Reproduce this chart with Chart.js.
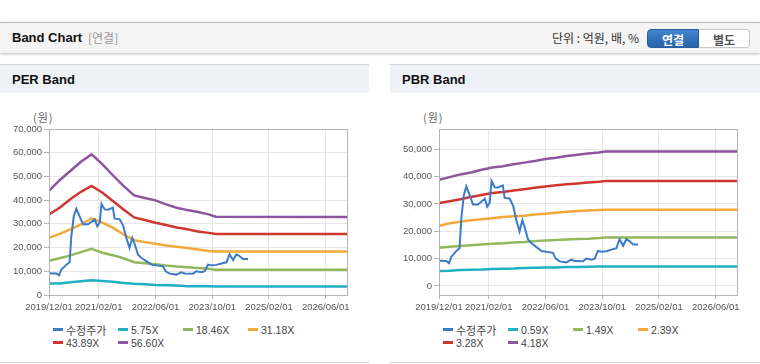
<!DOCTYPE html>
<html>
<head>
<meta charset="utf-8">
<script src="https://cdn.jsdelivr.net/npm/chart.js@4.4.1/dist/chart.umd.min.js"></script>
<style>
  body { margin: 0; width: 760px; height: 364px; background: #fff; overflow: hidden; position: relative;
         font-family: "Liberation Sans", Arial, "Noto Sans CJK KR", sans-serif; }
  #top { position: absolute; left: 0; top: 22px; width: 760px; height: 30px; background: #f4f4f4;
         border-top: 1px solid #bdbdbd; box-shadow: 0 1px 3px rgba(0,0,0,0.25); }
  #top .title { position: absolute; left: 12px; top: 7px; font-size: 13px; font-weight: bold; color: #111; }
  #top .sub { position: absolute; left: 88px; top: 8px; font-size: 12px; color: #999;
              font-family: "Noto Sans CJK KR", sans-serif; line-height: 14px; }
  #top .unit { position: absolute; left: 552px; top: 8px; font-size: 12px; color: #333;
               font-family: "Noto Sans CJK KR", sans-serif; line-height: 14px; }
  .btn { position: absolute; top: 6px; height: 19px; width: 52px; font-size: 12px; font-weight: bold;
         text-align: center; line-height: 19px; font-family: "Noto Sans CJK KR", sans-serif; box-sizing: border-box; }
  #b1 { left: 647px; background: linear-gradient(#3f85d0, #2863a8); color: #fff; border-radius: 4px 0 0 4px;
        border: 1px solid #2a5f9e; }
  #b2 { left: 699px; width: 51px; background: #fff; color: #555; border: 1px solid #c8c8c8; border-left: none;
        border-radius: 0 4px 4px 0; }
  .panel { position: absolute; top: 64px; height: 298px; border-bottom: 1px solid #d0d0d0; }
  .panel .head { position: absolute; left: 0; top: 0; width: 100%; height: 28px; background: #eef2f7;
                 border-top: 1px solid #d3d3d3; }
  .panel .head span { position: absolute; left: 12px; top: 7px; font-size: 13px; font-weight: bold; color: #111; }
  .panel .unitlbl { position: absolute; left: 33px; top: 46px; font-size: 11px; color: #666;
                    font-family: "Noto Sans CJK KR", sans-serif; line-height: 14px; letter-spacing: 1px; }
  .panel canvas { position: absolute; left: 0; top: 56px; }
  .legend { position: absolute; left: 53px; top: 259px; display: grid; grid-template-columns: repeat(4, 65px); }
  .legend div { height: 13px; display: flex; align-items: center; font-size: 10.5px; color: #444; white-space: nowrap; }
  .legend i { display: inline-block; width: 10px; height: 3px; margin-right: 3px; }
  .legend .ko { font-family: "Noto Sans CJK KR", sans-serif; font-size: 11px; }
</style>
</head>
<body>
<div id="top">
  <span class="title">Band Chart</span>
  <span class="sub">[연결]</span>
  <span class="unit">단위 : 억원, 배, %</span>
  <div class="btn" id="b1">연결</div>
  <div class="btn" id="b2">별도</div>
</div>

<div class="panel" style="left:0; width:369px;">
  <div class="head"><span>PER Band</span></div>
  <div class="unitlbl">(원)</div>
  <canvas id="perChart" width="360" height="200"></canvas>
  <div class="legend" id="perLegend"></div>
</div>

<div class="panel" style="left:390px; width:370px;">
  <div class="head"><span>PBR Band</span></div>
  <div class="unitlbl">(원)</div>
  <canvas id="pbrChart" width="360" height="200"></canvas>
  <div class="legend" id="pbrLegend"></div>
</div>

<script>
// x values are months counted from 2019/12/01
const xTickMonths = [0, 14, 30, 46, 62, 78];
const xTickLabels = ['2019/12/01', '2021/02/01', '2022/06/01', '2023/10/01', '2025/02/01', '2026/06/01'];
const xMaxMonth = 84;

// adjusted stock price (수정주가)
const priceMonths = [0, 2.1, 2.8, 3.5, 4.9, 5.8, 6.3, 7.0, 7.7, 8.6, 9.6, 11.0, 12.9, 13.6, 14.3, 14.8, 15.7, 16.6,
  18.0, 18.5, 19.9, 20.9, 21.8, 22.7, 23.5, 24.2, 25.1, 26.0, 27.4, 28.9, 32.1, 32.9, 34.0, 35.9, 37.3, 38.3,
  40.6, 41.5, 43.0, 43.9, 44.8, 45.8, 47.2, 48.6, 50.0, 50.9, 51.9, 52.8, 53.7, 54.7, 56.1];
const priceValues = [9200, 9100, 8300, 10700, 12800, 13800, 24800, 33300, 36400, 33300, 29800, 29800, 31900, 29000,
  30500, 38400, 36100, 36000, 36800, 32200, 32000, 29300, 24100, 19900, 24100, 21300, 17000, 15700, 14300, 12800,
  12100, 10000, 9000, 8600, 9600, 9100, 9000, 10000, 9600, 10000, 12800, 12500, 12700, 13300, 13800, 17100, 14700,
  17100, 16400, 15200, 15200];

const bandMonths = [0, 3, 6, 9, 12, 15, 18, 21, 24, 27, 30, 33, 36, 39, 42, 45, 47, 84];

// PER bands
const perLabels = ['수정주가', '5.75X', '18.46X', '31.18X', '43.89X', '56.60X'];
const per575 = [4800, 4900, 5400, 5800, 6200, 5900, 5600, 5100, 4700, 4500, 4200, 4100, 4000, 3700, 3700, 3700, 3600, 3600];
const per1846 = [14400, 15500, 16700, 18100, 19500, 17800, 16800, 15500, 13800, 13400, 13000, 12400, 12000, 11700, 11400, 11100, 10700, 10700];
const per3118 = [24100, 25800, 27700, 29800, 32300, 30500, 28400, 25500, 23100, 22300, 21600, 20900, 20300, 19800, 19200, 18600, 18300, 18300];
const per4389 = [34000, 36800, 40400, 43500, 46000, 43200, 39600, 36100, 32700, 31600, 30500, 29500, 28500, 27700, 26800, 26200, 25700, 25700];
const per5660 = [43900, 48400, 52300, 56200, 59300, 55200, 50500, 46000, 42000, 40900, 39900, 38200, 36800, 35800, 35000, 34000, 33000, 32900];

// PBR bands
const pbrLabels = ['수정주가', '0.59X', '1.49X', '2.39X', '3.28X', '4.18X'];
const pbr059 = [5500, 5600, 5800, 5900, 6000, 6200, 6300, 6400, 6600, 6700, 6800, 6800, 6900, 6900, 7000, 7100, 7100, 7100];
const pbr149 = [14000, 14300, 14600, 14900, 15200, 15400, 15600, 15900, 16100, 16400, 16600, 16800, 17000, 17200, 17300, 17500, 17700, 17700];
const pbr239 = [22000, 22900, 23500, 24000, 24400, 24800, 25200, 25500, 25700, 26100, 26400, 26800, 27100, 27400, 27600, 27800, 27900, 27900];
const pbr328 = [30300, 31000, 31700, 32500, 33300, 34000, 34400, 34900, 35400, 35900, 36400, 36800, 37200, 37500, 37800, 38100, 38400, 38400];
const pbr418 = [38800, 39800, 40800, 41500, 42500, 43300, 43800, 44500, 45100, 45700, 46400, 46900, 47500, 48000, 48400, 48800, 49200, 49200];

const colors = ['#3b7bc8', '#1fb0c3', '#93b75b', '#f2a93b', '#d0352e', '#8c559e'];

function toPoints(xs, ys) {
  return xs.map((x, i) => ({ x: x, y: ys[i] }));
}

// draws the frame round the plot area
const frame = {
  id: 'frame',
  afterDraw(chart) {
    const a = chart.chartArea;
    const ctx = chart.ctx;
    ctx.save();
    ctx.strokeStyle = '#b4b4b4';
    ctx.lineWidth = 1;
    ctx.strokeRect(Math.round(a.left) + 0.5, Math.round(a.top) + 0.5, Math.round(a.right - a.left), Math.round(a.bottom - a.top));
    ctx.restore();
  }
};

function makeChart(id, labels, bands, yMin, yMax, yTicks) {
  const datasets = [{
    label: labels[0],
    data: toPoints(priceMonths, priceValues),
    borderColor: colors[0],
    borderWidth: 2
  }];
  bands.forEach((b, i) => {
    datasets.push({
      label: labels[i + 1],
      data: toPoints(bandMonths, b),
      borderColor: colors[i + 1],
      borderWidth: 2.5
    });
  });
  datasets.forEach(d => { d.pointRadius = 0; d.fill = false; d.tension = 0; });

  return new Chart(document.getElementById(id), {
    type: 'line',
    data: { datasets: datasets },
    plugins: [frame],
    options: {
      responsive: false,
      animation: false,
      layout: { padding: { top: 9, right: 13, left: 0, bottom: 0 } },
      plugins: { legend: { display: false }, tooltip: { enabled: false } },
      scales: {
        x: {
          type: 'linear',
          min: 0,
          max: xMaxMonth,
          afterBuildTicks: (scale) => { scale.ticks = xTickMonths.map(v => ({ value: v })); },
          afterFit: (scale) => { scale.height = 25; },
          ticks: {
            autoSkip: false,
            maxRotation: 0,
            padding: 3,
            color: '#555',
            font: { family: 'Liberation Sans', size: 9.5 },
            callback: (v, i) => xTickLabels[i]
          },
          grid: { color: '#e6e6e6', tickColor: '#b4b4b4', tickLength: 4 },
          border: { color: '#b4b4b4' }
        },
        y: {
          min: yMin,
          max: yMax,
          afterBuildTicks: (scale) => { scale.ticks = yTicks.map(v => ({ value: v })); },
          afterFit: (scale) => { scale.width = 49; },
          ticks: {
            padding: 2,
            color: '#555',
            font: { family: 'Liberation Sans', size: 9.5 },
            callback: (v) => v.toLocaleString('en-US')
          },
          grid: { color: '#e6e6e6', tickColor: '#b4b4b4', tickLength: 5 },
          border: { color: '#b4b4b4' }
        }
      }
    }
  });
}

function makeLegend(id, labels) {
  const box = document.getElementById(id);
  labels.forEach((t, i) => {
    const d = document.createElement('div');
    d.innerHTML = '<i style="background:' + colors[i] + '"></i><span' + (i === 0 ? ' class="ko"' : '') + '>' + t + '</span>';
    box.appendChild(d);
  });
}

makeChart('perChart', perLabels, [per575, per1846, per3118, per4389, per5660], 0, 70000,
  [0, 10000, 20000, 30000, 40000, 50000, 60000, 70000]);
makeChart('pbrChart', pbrLabels, [pbr059, pbr149, pbr239, pbr328, pbr418], -3300, 57400,
  [0, 10000, 20000, 30000, 40000, 50000]);
makeLegend('perLegend', perLabels);
makeLegend('pbrLegend', pbrLabels);
</script>
</body>
</html>
